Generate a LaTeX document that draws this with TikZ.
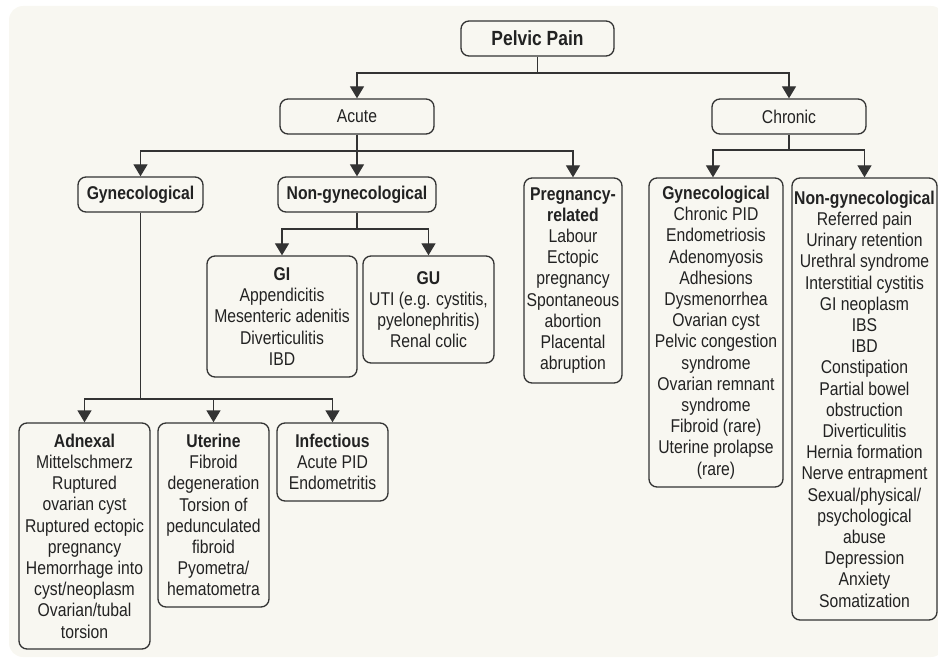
\documentclass[tikz,border=0pt]{standalone}
\usepackage{fontspec}
\setmainfont{Liberation Sans}[FakeStretch=0.85]
\usetikzlibrary{arrows.meta}
\definecolor{bgc}{HTML}{F8F7F1}
\definecolor{txt}{HTML}{222222}
\definecolor{lnc}{HTML}{333333}
\tikzset{
  box/.style={draw=lnc, line width=1.3pt, rounded corners=8pt, fill=bgc,
    align=center, inner sep=0pt, text=txt,
    font=\fontsize{18.5}{21.2}\selectfont},
  conn/.style={draw=lnc, line width=1.3pt},
  arr/.style={conn, -{Triangle[width=14pt,length=12pt]}},
}
\begin{document}
\begin{tikzpicture}[x=1pt,y=-1pt]
\useasboundingbox (0,0) rectangle (938,658);
\fill[bgc, rounded corners=14pt] (9,6) rectangle (945,657);

\node[box, minimum width=153pt, minimum height=35pt, font=\fontsize{20.5}{23}\selectfont\bfseries] (pp) at (537.5,38.5) {Pelvic Pain};
\node[box, minimum width=154pt, minimum height=35pt] (acute) at (357,116.5) {Acute};
\node[box, minimum width=154pt, minimum height=35pt] (chronic) at (789,116.5) {Chronic};

\node[box, minimum width=125pt, minimum height=35pt, font=\fontsize{18.5}{21.2}\selectfont\bfseries] (ag) at (140.5,194.5) {Gynecological};
\node[box, minimum width=158pt, minimum height=35pt, font=\fontsize{18.5}{21.2}\selectfont\bfseries] (ang) at (357,194.5) {Non-gynecological};
\node[box, minimum width=98pt, minimum height=205pt] (preg) at (573,280.5) {\textbf{Pregnancy-}\\\textbf{related}\\Labour\\Ectopic\\pregnancy\\Spontaneous\\abortion\\Placental\\abruption};

\node[box, minimum width=150pt, minimum height=121pt] (gi) at (282,316.5) {\textbf{GI}\\Appendicitis\\Mesenteric adenitis\\Diverticulitis\\IBD};
\node[box, minimum width=131pt, minimum height=107pt] (gu) at (428.5,309.5) {\textbf{GU}\\UTI (e.g. cystitis,\\pyelonephritis)\\Renal colic};

\node[box, minimum width=131pt, minimum height=226pt] (adn) at (84.5,536) {\textbf{Adnexal}\\Mittelschmerz\\Ruptured\\ovarian cyst\\Ruptured ectopic\\pregnancy\\Hemorrhage into\\cyst/neoplasm\\Ovarian/tubal\\torsion};
\node[box, minimum width=111pt, minimum height=184pt] (ute) at (213.5,515) {\textbf{Uterine}\\Fibroid\\degeneration\\Torsion of\\pedunculated\\fibroid\\Pyometra/\\hematometra};
\node[box, minimum width=111pt, minimum height=78pt] (inf) at (332.5,462) {\textbf{Infectious}\\Acute PID\\Endometritis};

\node[box, minimum width=134pt, minimum height=309pt] (cg) at (716,332.5) {\textbf{Gynecological}\\Chronic PID\\Endometriosis\\Adenomyosis\\Adhesions\\Dysmenorrhea\\Ovarian cyst\\Pelvic congestion\\syndrome\\Ovarian remnant\\syndrome\\Fibroid (rare)\\Uterine prolapse\\(rare)};
\node[box, minimum width=145pt, minimum height=442pt] (cng) at (864.5,399) {\textbf{Non-gynecological}\\Referred pain\\Urinary retention\\Urethral syndrome\\Interstitial cystitis\\GI neoplasm\\IBS\\IBD\\Constipation\\Partial bowel\\obstruction\\Diverticulitis\\Hernia formation\\Nerve entrapment\\Sexual/physical/\\psychological\\abuse\\Depression\\Anxiety\\Somatization};

% bus points
\coordinate (b0) at (pp.south |- 0,73);
\coordinate (b1) at (acute.south |- 0,151);
\coordinate (b2) at (chronic.south |- 0,150);
\coordinate (b3) at (ang.south |- 0,229);
\coordinate (b4) at (ag.south |- 0,399);

\draw[conn] (pp.south) -- (b0);
\draw[arr] (b0) -| (acute.north);
\draw[arr] (b0) -| (chronic.north);

\draw[conn] (acute.south) -- (b1);
\draw[arr] (b1) -| (ag.north);
\draw[arr] (acute.south) -- (ang.north);
\draw[arr] (b1) -| (preg.north);

\draw[conn] (chronic.south) -- (b2);
\draw[arr] (b2) -| ([xshift=-3pt]cg.north);
\draw[arr] (b2) -| (cng.north);

\draw[conn] (ang.south) -- (b3);
\draw[arr] (b3) -| (gi.north);
\draw[arr] (b3) -| (gu.north);

\draw[conn] (ag.south) -- (b4);
\draw[arr] (b4) -| (adn.north);
\draw[arr] (b4) -| (ute.north);
\draw[arr] (b4) -| (inf.north);
\end{tikzpicture}
\end{document}
